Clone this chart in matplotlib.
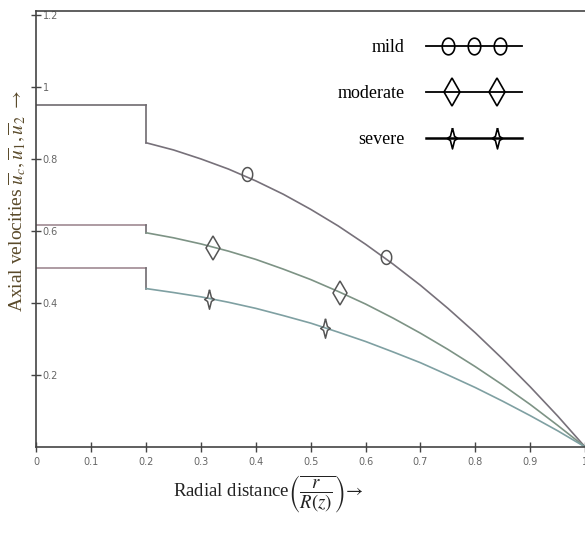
import matplotlib
matplotlib.use('Agg')
import matplotlib.pyplot as plt
from matplotlib.legend_handler import HandlerLine2D, HandlerTuple
from matplotlib.lines import Line2D
import numpy as np

plt.rcParams['mathtext.fontset'] = 'stix'

# core (plug) region, 0 <= r <= 0.2
core_r = [0.0, 0.2]
mild_core = [0.95, 0.95]
moderate_core = [0.617, 0.617]
severe_core = [0.496, 0.496]

# outer region
r = [0.2, 0.25, 0.3, 0.35, 0.4, 0.45, 0.5, 0.55, 0.6,
     0.65, 0.7, 0.75, 0.8, 0.85, 0.9, 0.95, 1.0]
mild = [0.845, 0.825, 0.800, 0.772, 0.739, 0.702, 0.660, 0.614, 0.563,
        0.508, 0.449, 0.385, 0.317, 0.244, 0.167, 0.086, 0.0]
moderate = [0.595, 0.581, 0.564, 0.544, 0.521, 0.494, 0.465, 0.432, 0.397,
            0.358, 0.316, 0.271, 0.223, 0.172, 0.118, 0.060, 0.0]
severe = [0.440, 0.429, 0.417, 0.402, 0.385, 0.365, 0.344, 0.319, 0.293,
          0.264, 0.234, 0.200, 0.165, 0.127, 0.087, 0.045, 0.0]

# marker points
mild_mk_r, mild_mk_u = [0.383, 0.637], [0.757, 0.529]
mod_mk_r, mod_mk_u = [0.321, 0.553], [0.552, 0.427]
sev_mk_r, sev_mk_u = [0.315, 0.526], [0.410, 0.331]

xticks = [0, 0.1, 0.2, 0.3, 0.4, 0.5, 0.6, 0.7, 0.8, 0.9, 1.0]
xticklabels = ['0', '0.1', '0.2', '0.3', '0.4', '0.5', '0.6', '0.7', '0.8', '0.9', '1']
yticks = [0.2, 0.4, 0.6, 0.8, 1.0, 1.2]
yticklabels = ['0.2', '0.4', '0.6', '0.8', '1', '1.2']

# marker shapes
t = np.linspace(0, 2 * np.pi, 41)
ellipse = list(zip(0.75 * np.cos(t), np.sin(t)))
star4 = [(0, 1), (0.2, 0.2), (0.5, 0), (0.2, -0.2), (0, -1),
         (-0.2, -0.2), (-0.5, 0), (-0.2, 0.2), (0, 1)]

fig = plt.figure(figsize=(5.85, 5.42), dpi=100)
ax = fig.add_axes([0.0622, 0.1753, 0.938, 0.8044])

c_mild, c_mod, c_sev = '#77717a', '#7d9385', '#7fa0a2'
c_core = '#a08a92'

# steps + curves
ax.plot(core_r, mild_core, color='#6f6b70', lw=1.2)
ax.plot([core_r[-1], r[0]], [mild_core[-1], mild[0]], color='#6f6b70', lw=1.2)
ax.plot(r, mild, color=c_mild, lw=1.2)

ax.plot(core_r, moderate_core, color=c_core, lw=1.2)
ax.plot([core_r[-1], r[0]], [moderate_core[-1], moderate[0]], color='#6f6b70', lw=1.2)
ax.plot(r, moderate, color=c_mod, lw=1.2)

ax.plot(core_r, severe_core, color=c_core, lw=1.2)
ax.plot([core_r[-1], r[0]], [severe_core[-1], severe[0]], color='#6f6b70', lw=1.2)
ax.plot(r, severe, color=c_sev, lw=1.2)

mk = dict(linestyle='none', markerfacecolor='none', markeredgecolor='#555555', markeredgewidth=1.1)
ax.plot(mild_mk_r, mild_mk_u, marker=ellipse, markersize=10, **mk)
ax.plot(mod_mk_r, mod_mk_u, marker='d', markersize=12, **mk)
ax.plot(sev_mk_r, sev_mk_u, marker=star4, markersize=14, **mk)

# legend: full-length line + inset markers
lmk = dict(linestyle='none', markerfacecolor='none', markeredgecolor='black', markeredgewidth=1.2)
l_mild = Line2D([], [], color='black', lw=1.3)
l_mod = Line2D([], [], color='black', lw=1.3)
l_sev = Line2D([], [], color='black', lw=1.8)
m_mild = Line2D([], [], marker=ellipse, markersize=12, **lmk)
m_mod = Line2D([], [], marker='d', markersize=14, **lmk)
m_sev = Line2D([], [], marker=star4, markersize=15, **lmk)
ax.legend([(l_mild, m_mild), (l_mod, m_mod), (l_sev, m_sev)],
          ['mild', 'moderate', 'severe'],
          handler_map={tuple: HandlerTuple(ndivide=1),
                       m_mild: HandlerLine2D(numpoints=3, marker_pad=1.2),
                       m_mod: HandlerLine2D(numpoints=2, marker_pad=1.4),
                       m_sev: HandlerLine2D(numpoints=2, marker_pad=1.4)},
          frameon=False, markerfirst=False, loc='upper right',
          bbox_to_anchor=(0.885, 0.935), borderaxespad=0, borderpad=0,
          handlelength=5.3, handletextpad=1.2, labelspacing=1.6,
          prop={'family': 'Liberation Serif', 'size': 13})

ax.set_xlim(0, 1.0)
ax.set_ylim(0, 1.211)
ax.set_xticks(xticks)
ax.set_xticklabels(xticklabels)
ax.set_yticks(yticks)
ax.set_yticklabels(yticklabels)
ax.tick_params(axis='both', direction='inout', length=7, width=1, color='#444444',
               labelsize=7, labelcolor='#666666')
ax.tick_params(axis='y', pad=-8)
for lbl in ax.get_yticklabels():
    lbl.set_horizontalalignment('left')

for side in ['left', 'bottom', 'top']:
    ax.spines[side].set_color('#444444')
    ax.spines[side].set_linewidth(1.2)
ax.spines['right'].set_visible(False)

fig.text(0.03, 0.63, r'Axial velocities $\overline{u}_c,\overline{u}_1,\overline{u}_2$ $\rightarrow$',
         rotation=90, ha='center', va='center', fontsize=14, color='#5a4a2a',
         family='Liberation Serif')
fig.text(0.458, 0.087, r'Radial distance$\left(\overline{\dfrac{r}{R(z)}}\right)\!\rightarrow$',
         ha='center', va='center', fontsize=13.5, color='#222222',
         family='Liberation Serif')

plt.savefig('out.png', dpi=100)
